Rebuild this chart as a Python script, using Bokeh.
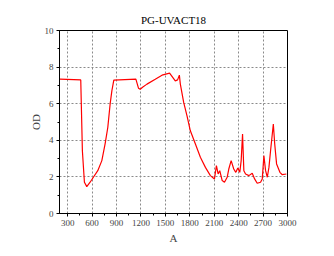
from bokeh.plotting import figure
from bokeh.models import SingleIntervalTicker, Range1d
from bokeh.embed import file_html
from bokeh.resources import INLINE

wavelength = [206, 461, 481, 506, 535, 576, 616, 670, 720, 760, 793, 822, 843, 867,
              1138, 1170, 1191, 1220, 1274, 1376, 1459, 1552, 1622, 1650, 1672, 1684,
              1725, 1766, 1807, 1869, 1930, 1992, 2053, 2103, 2127, 2148, 2168, 2198,
              2226, 2259, 2279, 2308, 2340, 2365, 2390, 2414, 2431, 2448, 2464, 2485,
              2526, 2567, 2596, 2628, 2669, 2690, 2710, 2731, 2752, 2772, 2792, 2826,
              2843, 2866, 2907, 2936, 2986]
od = [7.34, 7.30, 3.43, 1.71, 1.47, 1.71, 1.98, 2.34, 2.89, 3.80, 4.70, 5.99, 6.70, 7.29,
      7.34, 6.85, 6.79, 6.90, 7.07, 7.34, 7.56, 7.67, 7.25, 7.30, 7.56, 7.07,
      6.07, 5.34, 4.52, 3.80, 3.07, 2.52, 2.07, 1.89, 2.62, 2.16, 2.34, 1.80,
      1.71, 1.98, 2.43, 2.89, 2.43, 2.25, 2.49, 2.25, 2.89, 4.34, 2.34, 2.16,
      2.07, 2.20, 1.89, 1.65, 1.71, 1.89, 3.16, 2.34, 1.98, 2.52, 3.43, 4.89,
      3.80, 2.71, 2.25, 2.12, 2.16]

FONT = "Liberation Serif"

p = figure(width=334, height=256, output_backend="svg", toolbar_location=None,
           x_range=Range1d(200, 3000), y_range=Range1d(0, 10),
           min_border_left=59, min_border_right=47, min_border_top=30,
           min_border_bottom=43, title="PG-UVACT18")

p.title.align = "center"
p.title.text_font = FONT
p.title.text_font_style = "normal"
p.title.text_font_size = "11px"
p.title.text_color = "black"

p.line(wavelength, od, line_color="red", line_width=1.2)

p.xaxis.ticker = SingleIntervalTicker(interval=300, num_minor_ticks=2)
p.yaxis.ticker = SingleIntervalTicker(interval=2, num_minor_ticks=2)
p.xaxis.axis_label = "A"
p.yaxis.axis_label = "OD"

for ax in (p.xaxis[0], p.yaxis[0]):
    ax.axis_label_text_font = FONT
    ax.axis_label_text_font_style = "normal"
    ax.axis_label_text_font_size = "11px"
    ax.major_label_text_font = FONT
    ax.major_label_text_font_size = "9px"
    ax.axis_line_color = "black"
    ax.axis_line_width = 1
    ax.major_tick_line_color = "black"
    ax.minor_tick_line_color = "black"
    ax.major_tick_out = 3
    ax.major_tick_in = 0
    ax.minor_tick_out = 2
    ax.minor_tick_in = 0
    ax.major_label_standoff = 3

p.xaxis[0].axis_label_standoff = 3
p.yaxis[0].axis_label_standoff = 0

for g in (p.xgrid[0], p.ygrid[0]):
    g.grid_line_color = "#8a8a8a"
    g.grid_line_dash = "2 2"
    g.grid_line_width = 1

p.outline_line_color = "black"
p.outline_line_width = 1
p.background_fill_color = "white"
p.border_fill_color = "white"

open("out.html", "w").write(file_html(p, INLINE))
